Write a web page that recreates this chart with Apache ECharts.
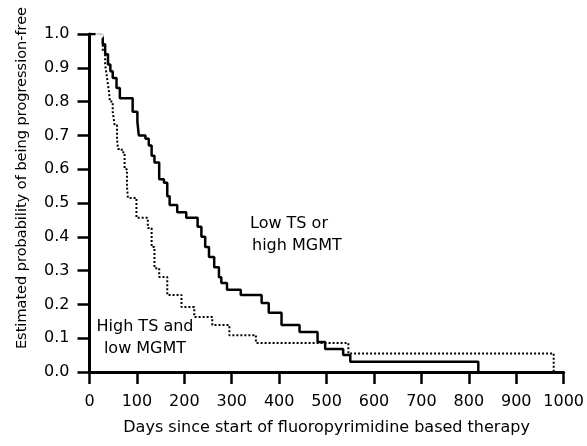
<!DOCTYPE html>
<html>
<head>
<meta charset="utf-8">
<script src="https://cdn.jsdelivr.net/npm/echarts@6/dist/echarts.min.js"></script>
<style>
html, body { margin: 0; padding: 0; background: #fff; }
#chart { width: 587px; height: 446px; }
</style>
</head>
<body>
<div id="chart"></div>
<script>

// Low TS or high MGMT (solid)
var solidDays = [0, 28, 33, 39, 44, 49, 57, 64, 91, 101, 104, 118, 125, 131, 137, 147, 157, 164, 169, 185, 204, 228, 236, 244, 252, 263, 273, 278, 290, 319, 363, 378, 405, 443, 481, 497, 535, 550, 820];
var solidProb = [1.0, 0.97, 0.94, 0.91, 0.89, 0.87, 0.84, 0.81, 0.77, 0.74, 0.70, 0.69, 0.67, 0.64, 0.62, 0.57, 0.56, 0.52, 0.494, 0.473, 0.456, 0.43, 0.40, 0.37, 0.34, 0.31, 0.28, 0.263, 0.243, 0.228, 0.204, 0.175, 0.139, 0.118, 0.089, 0.068, 0.05, 0.03, 0];

// High TS and low MGMT (dotted)
var dashDays = [0, 28, 33, 37, 41, 43, 49, 53, 58, 60, 68, 74, 79, 81, 99, 123, 131, 137, 147, 164, 194, 221, 259, 295, 351, 546, 979];
var dashProb = [1.0, 0.95, 0.91, 0.87, 0.83, 0.80, 0.77, 0.73, 0.69, 0.66, 0.65, 0.60, 0.55, 0.515, 0.456, 0.426, 0.37, 0.307, 0.281, 0.228, 0.192, 0.163, 0.139, 0.109, 0.086, 0.055, 0];

// censored mark near the start
var censorDays = [22];
var censorProb = [1.0];

var xTicks = [0, 100, 200, 300, 400, 500, 600, 700, 800, 900, 1000];

function zip(a, b) {
	var out = [];
	for (var i = 0; i < a.length; i++) {
		out.push([a[i], b[i]]);
	}
	return out;
}

var font = 'DejaVu Sans';
var myChart = echarts.init(document.getElementById('chart'), null, { renderer: 'canvas' });

var option = {
	backgroundColor: '#fff',
	animation: false,
	grid: { left: 89.5, right: 20, top: 34, bottom: 74, containLabel: false },
	xAxis: {
		type: 'value',
		min: xTicks[0],
		max: xTicks[xTicks.length - 1],
		interval: 100,
		name: 'Days since start of fluoropyrimidine based therapy',
		nameLocation: 'middle',
		nameGap: 48,
		nameTextStyle: { color: '#000', fontFamily: font, fontSize: 16 },
		axisLine: { lineStyle: { color: '#000', width: 3 } },
		axisTick: { length: 12, lineStyle: { color: '#000', width: 2.5 } },
		axisLabel: {
			color: '#000', fontFamily: font, fontSize: 16, margin: 22,
			formatter: function(v) { return String(v); }
		},
		splitLine: { show: false }
	},
	yAxis: {
		type: 'value',
		min: 0,
		max: 1,
		interval: 0.1,
		name: 'Estimated probability of being progression-free',
		nameLocation: 'middle',
		nameGap: 60,
		nameTextStyle: { color: '#000', fontFamily: font, fontSize: 14.5, padding: [0, 0, 0, 50] },
		axisLine: { lineStyle: { color: '#000', width: 3 } },
		axisTick: { length: 12, lineStyle: { color: '#000', width: 2.5 } },
		axisLabel: {
			color: '#000', fontFamily: font, fontSize: 16, margin: 20,
			formatter: function(v) { return v.toFixed(1); }
		},
		splitLine: { show: false }
	},
	series: [
		{
			name: 'Low TS or high MGMT',
			type: 'line',
			step: 'end',
			showSymbol: false,
			data: zip(solidDays, solidProb),
			lineStyle: { color: '#000', width: 2.5 },
			z: 3
		},
		{
			name: 'High TS and low MGMT',
			type: 'line',
			step: 'end',
			showSymbol: false,
			data: zip(dashDays, dashProb),
			lineStyle: { color: '#000', width: 2, type: [2, 2] },
			z: 2
		},
		{
			type: 'scatter',
			symbol: 'emptyCircle',
			symbolSize: 7,
			data: zip(censorDays, censorProb),
			itemStyle: { color: '#fff', borderColor: '#000', borderWidth: 1.5 },
			z: 4
		}
	],
	graphic: [
		{ type: 'text', left: 250, top: 216, style: { text: 'Low TS or', fill: '#000', font: '16px "DejaVu Sans"' } },
		{ type: 'text', left: 252, top: 238, style: { text: 'high MGMT', fill: '#000', font: '16px "DejaVu Sans"' } },
		{ type: 'text', x: 145, y: 327, style: { text: 'High TS and', fill: '#000', font: '16px "DejaVu Sans"', align: 'center', verticalAlign: 'middle' } },
		{ type: 'text', x: 145, y: 349, style: { text: 'low MGMT', fill: '#000', font: '16px "DejaVu Sans"', align: 'center', verticalAlign: 'middle' } }
	]
};

myChart.setOption(option);

</script>
</body>
</html>
